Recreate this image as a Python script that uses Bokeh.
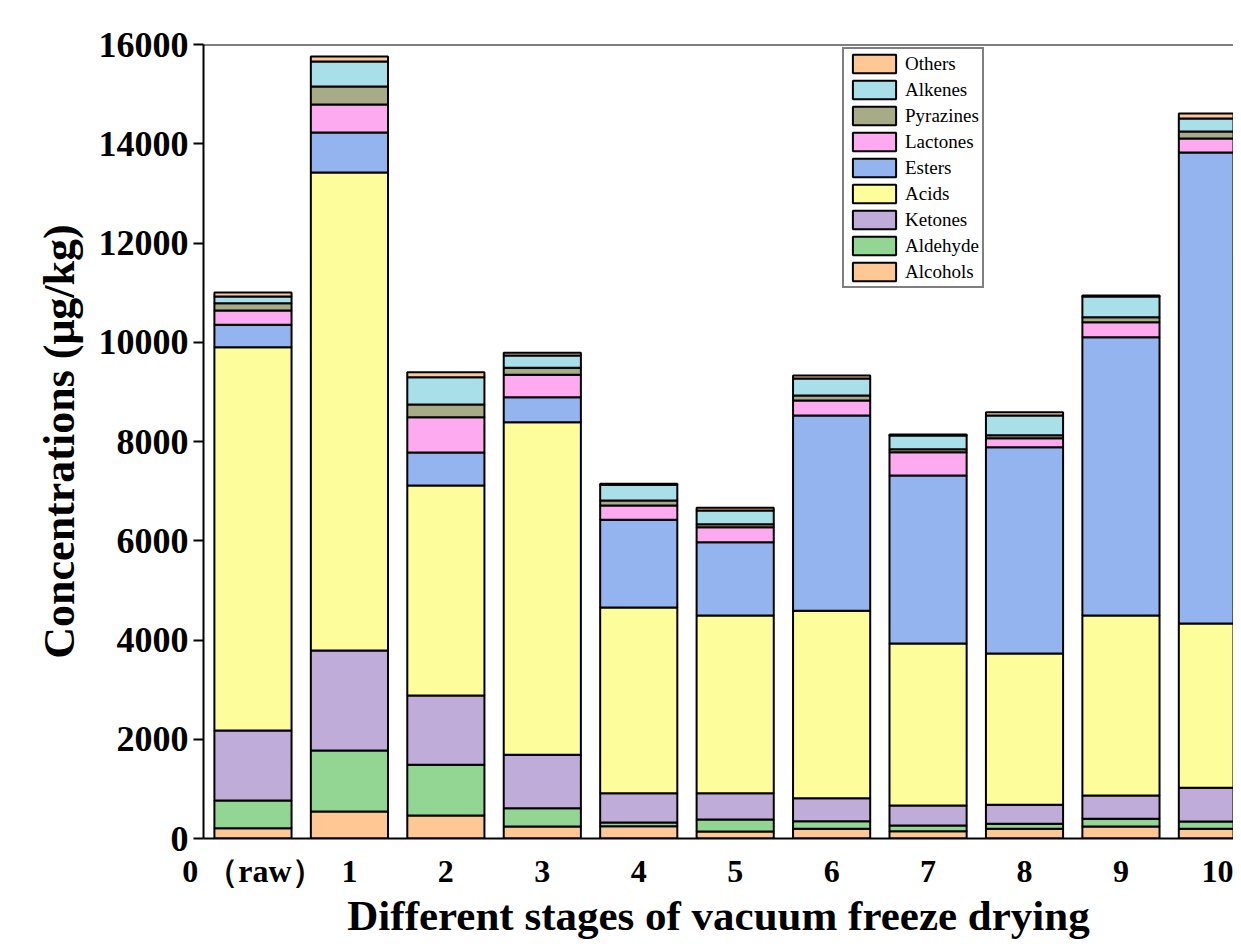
from bokeh.plotting import figure
from bokeh.models import Range1d, FixedTicker, Legend, LegendItem, Span
from bokeh.embed import file_html
from bokeh.resources import INLINE

stages = ["0 （raw）", "1", "2", "3", "4", "5", "6", "7", "8", "9", "10"]
alcohols = [208, 544, 463, 242, 248, 141, 195, 147, 195, 242, 195]
aldehyde = [558, 1229, 1022, 369, 74, 242, 154, 115, 101, 155, 148]
ketones = [1410, 2015, 1396, 1075, 591, 530, 463, 403, 383, 469, 679]
acids = [7724, 9632, 4232, 6703, 3742, 3580, 3778, 3264, 3049, 3627, 3310]
esters = [451, 806, 665, 503, 1767, 1477, 3933, 3385, 4156, 5608, 9491]
lactones = [288, 564, 711, 451, 288, 303, 303, 470, 182, 303, 282]
pyrazines = [148, 363, 256, 141, 101, 60, 100, 60, 60, 100, 141]
alkenes = [134, 504, 550, 248, 316, 276, 343, 276, 397, 417, 262]
others = [81, 100, 101, 55, 20, 55, 61, 20, 67, 20, 101]

series_names = ["Alcohols", "Aldehyde", "Ketones", "Acids", "Esters",
                "Lactones", "Pyrazines", "Alkenes", "Others"]
series_vals = [alcohols, aldehyde, ketones, acids, esters,
               lactones, pyrazines, alkenes, others]
colors = ["#FDC893", "#93D593", "#BFACD8", "#FDFD9B", "#93B4EE",
          "#FDAAF0", "#A8AB87", "#A8DFE8", "#FDC893"]

xs = list(range(len(stages)))
data = {"x": xs}
for n, v in zip(series_names, series_vals):
    data[n] = v

FONT = "Liberation Serif"

p = figure(width=1233, height=944, output_backend="svg", toolbar_location=None,
           x_range=Range1d(-0.513, 10.167), y_range=Range1d(0, 16000),
           min_border_left=203, min_border_top=44, min_border_bottom=106,
           min_border_right=0)
p.outline_line_color = None
p.xgrid.visible = False
p.ygrid.visible = False
p.background_fill_color = "white"

rs = p.vbar_stack(series_names, x="x", width=0.8, source=data,
                  fill_color=colors, line_color="black", line_width=2)

# axes
p.yaxis.ticker = FixedTicker(ticks=list(range(0, 16001, 2000)))
p.yaxis.minor_tick_line_color = None
p.yaxis.major_tick_out = 10
p.yaxis.major_tick_in = 0
p.yaxis.major_tick_line_width = 2
p.yaxis.axis_line_width = 2
p.yaxis.major_label_text_font = FONT
p.yaxis.major_label_text_font_style = "bold"
p.yaxis.major_label_text_font_size = "36px"
p.yaxis.major_label_text_color = "black"
p.yaxis.major_label_standoff = 5
p.yaxis.axis_label = "Concentrations (μg/kg)"
p.yaxis.axis_label_text_font = FONT
p.yaxis.axis_label_text_font_style = "bold"
p.yaxis.axis_label_text_font_size = "44px"
p.yaxis.axis_label_text_color = "black"
p.yaxis.axis_label_standoff = 12

p.xaxis.ticker = FixedTicker(ticks=xs)
p.xaxis.major_label_overrides = {i: s for i, s in zip(xs, stages)}
p.xaxis.major_tick_line_color = None
p.xaxis.minor_tick_line_color = None
p.xaxis.axis_line_width = 2
p.xaxis.major_label_text_font = FONT
p.xaxis.major_label_text_font_style = "bold"
p.xaxis.major_label_text_font_size = "32px"
p.xaxis.major_label_text_color = "black"
p.xaxis.major_label_standoff = 8
p.xaxis.axis_label = "Different stages of vacuum freeze drying"
p.xaxis.axis_label_text_font = FONT
p.xaxis.axis_label_text_font_style = "bold"
p.xaxis.axis_label_text_font_size = "43px"
p.xaxis.axis_label_text_color = "black"
p.xaxis.axis_label_standoff = 0

p.add_layout(Span(location=16000, dimension="width", line_color="black", line_width=2))

items = [LegendItem(label=n, renderers=[r]) for n, r in zip(series_names, rs)][::-1]
legend = Legend(items=items, location=(639, 550), margin=0, padding=3,
                spacing=3, glyph_width=54, glyph_height=23, label_height=23,
                label_standoff=4, label_text_font=FONT,
                label_text_font_size="19px", label_text_color="black",
                border_line_color="black", border_line_width=2,
                background_fill_alpha=1.0)
p.add_layout(legend)

open("out.html", "w").write(file_html(p, INLINE))
